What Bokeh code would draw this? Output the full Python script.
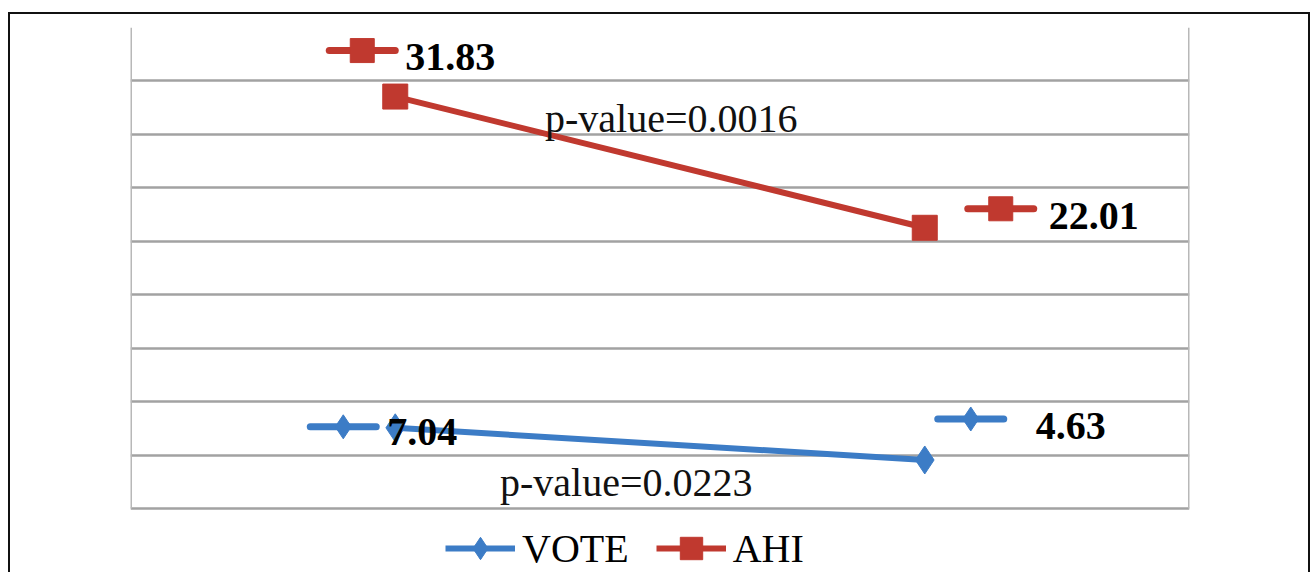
from bokeh.plotting import figure
from bokeh.models import Range1d, Grid, FixedTicker, Legend, LegendItem, ColumnDataSource, Spacer
from bokeh.layouts import column
from bokeh.embed import file_html
from bokeh.resources import INLINE
from bokeh.core.properties import value

# ---------------- data ----------------
categories = ["Pre-treatment", "Post-treatment"]
vote = [7.04, 4.63]
ahi = [31.83, 22.01]
vote_labels = ["7.04", "4.63"]
ahi_labels = ["31.83", "22.01"]
vote_pvalue = "p-value=0.0223"
ahi_pvalue = "p-value=0.0016"
grid_ticks = [1, 5, 9, 13, 17, 21, 25, 29, 33, 37]

# ---------------- style ----------------
RED = "#c0392f"
BLUE = "#3c7cc6"
FONT_NAME = "Liberation Serif"
FONT = value(FONT_NAME)

W, H = 1298, 558
BL, BR, BT, BB = 120, 119, 13, 0
FW = W - BL - BR
FH = H - BT - BB
unit_px = 481 / (grid_ticks[-1] - grid_ticks[0])
y_top = grid_ticks[-1]
y_bottom = y_top - FH / unit_px
n = len(categories)
ux = n / FW          # data units per pixel (x)
uy = 1 / unit_px     # data units per pixel (y)

p = figure(width=W, height=H, x_range=Range1d(0, n), y_range=Range1d(y_bottom, y_top),
           x_axis_type=None, y_axis_type=None, output_backend="svg", toolbar_location=None,
           min_border_left=BL, min_border_right=BR, min_border_top=BT, min_border_bottom=BB)
p.outline_line_color = None
p.background_fill_color = "white"
p.border_fill_color = "white"

p.add_layout(Grid(dimension=1, ticker=FixedTicker(ticks=grid_ticks),
                  grid_line_color="#a2a2a2", grid_line_width=2.5))
# plot-area side borders
p.segment(x0=[0, n], y0=[grid_ticks[0]] * 2, x1=[0, n], y1=[grid_ticks[-1]] * 2,
          line_color="#b8b8b8", line_width=3)

x = [i + 0.5 for i in range(n)]

ahi_line = p.line(x, ahi, line_color=RED, line_width=6)
ahi_pts = p.scatter(x, ahi, marker="square", size=25, fill_color=RED, line_color=RED)
vote_line = p.line(x, vote, line_color=BLUE, line_width=6)
vote_pts = p.scatter(x, vote, marker="diamond", size=28, fill_color=BLUE, line_color=BLUE)

# data labels with legend keys (offsets in screen pixels)
series = [
    (ahi, ahi_labels, RED, "square", 24, [(-33, -46), (76, -19)], [(10, -40), (124, -12)]),
    (vote, vote_labels, BLUE, "diamond", 24, [(-52, -1), (46, -41)], [(-8, 4), (111, -34)]),
]
half_key = 33
for vals, labs, col, mk, msz, key_off, lab_off in series:
    kx = [xi + dx * ux for xi, (dx, dy) in zip(x, key_off)]
    ky = [yi - dy * uy for yi, (dx, dy) in zip(vals, key_off)]
    p.segment(x0=[k - half_key * ux for k in kx], y0=ky, x1=[k + half_key * ux for k in kx], y1=ky,
              line_color=col, line_width=7, line_cap="round")
    p.scatter(kx, ky, marker=mk, size=msz, fill_color=col, line_color=col)
    src = ColumnDataSource(dict(x=x, y=vals, t=labs,
                                xo=[o[0] for o in lab_off], yo=[o[1] for o in lab_off]))
    p.text(x="x", y="y", text="t", x_offset="xo", y_offset="yo", source=src,
           text_font=FONT, text_font_style="bold", text_font_size="40px",
           text_color="black", text_align="left", text_baseline="middle")

# p-value annotations, anchored at each line's midpoint
mid_x = sum(x) / n
pv_src = ColumnDataSource(dict(
    x=[mid_x, mid_x],
    y=[sum(ahi) / n, sum(vote) / n],
    t=[ahi_pvalue, vote_pvalue],
    xo=[-115, -160], yo=[-44, 39]))
p.text(x="x", y="y", text="t", x_offset="xo", y_offset="yo", source=pv_src,
       text_font=FONT, text_font_size="40px", text_color="#111111",
       text_align="left", text_baseline="middle")

legend = Legend(items=[LegendItem(label="VOTE", renderers=[vote_line, vote_pts]),
                       LegendItem(label="AHI", renderers=[ahi_line, ahi_pts])],
                orientation="horizontal", location=(315, -4),
                glyph_width=70, glyph_height=56, label_standoff=7, spacing=27,
                padding=0, margin=0, border_line_color=None, background_fill_alpha=0,
                label_text_font=FONT_NAME, label_text_font_size="40px", label_text_color="black")
p.add_layout(legend)

framed = column(p, styles={"border-left": "2px solid #111", "border-right": "2px solid #111",
                           "border-top": "2px solid #111"})
page = column(Spacer(height=4, width=10), framed,
              styles={"padding-left": "8px", "padding-top": "8px"})

open("out.html", "w").write(file_html(page, INLINE))
